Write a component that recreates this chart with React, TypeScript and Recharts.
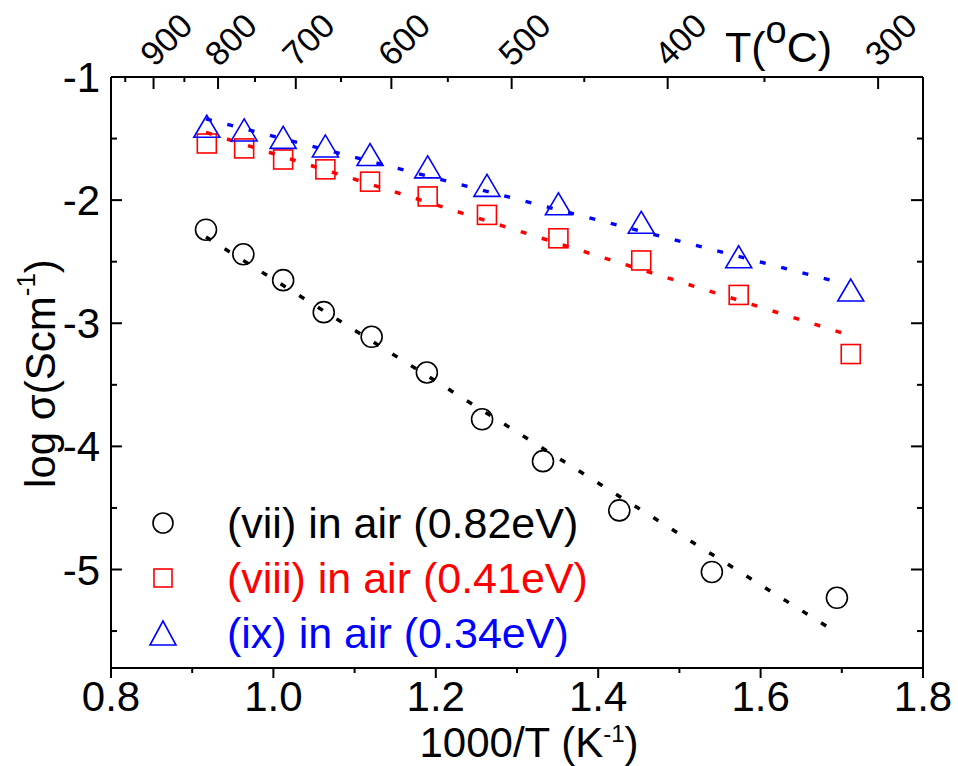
import React from 'react';
import { ComposedChart, Scatter, Line, XAxis, YAxis, Legend } from 'recharts';

const FONT = '"Liberation Sans", Arial, Helvetica, sans-serif';

// 1000/T values and log(sigma)
const xVii = [0.917, 0.963, 1.012, 1.062, 1.121, 1.189, 1.257, 1.332, 1.426, 1.540, 1.694];
const yVii = [-2.24, -2.44, -2.65, -2.91, -3.11, -3.40, -3.78, -4.12, -4.52, -5.02, -5.23];

const xViiiIx = [0.918, 0.964, 1.012, 1.064, 1.119, 1.190, 1.263, 1.351, 1.453, 1.573, 1.711];
const yViii = [-1.54, -1.58, -1.67, -1.75, -1.85, -1.97, -2.12, -2.31, -2.49, -2.77, -3.25];
const yIx = [-1.40, -1.43, -1.49, -1.56, -1.63, -1.73, -1.88, -2.03, -2.18, -2.46, -2.73];

// end points of the dotted Arrhenius fits
const fitXVii = [0.917, 1.681];
const fitYVii = [-2.30, -5.46];
const fitXViii = [0.917, 1.706];
const fitYViii = [-1.45, -3.09];
const fitXIx = [0.917, 1.704];
const fitYIx = [-1.34, -2.68];

const legendLabels = ['(vii) in air (0.82eV)', '(viii) in air (0.41eV)', '(ix) in air (0.34eV)'];
const seriesColors = ['#000000', '#ff0000', '#0000ff'];

const xTicks = [0.8, 0.9, 1.0, 1.1, 1.2, 1.3, 1.4, 1.5, 1.6, 1.7, 1.8];
const yTicks = [-1, -1.5, -2, -2.5, -3, -3.5, -4, -4.5, -5, -5.5];
const tempTicksC = [950, 900, 850, 800, 750, 700, 650, 600, 550, 500, 450, 400, 350, 300];

const toPoints = (xs: number[], ys: number[]) => xs.map((x, i) => ({ x, y: ys[i] }));

const dataVii = toPoints(xVii, yVii);
const dataViii = toPoints(xViiiIx, yViii);
const dataIx = toPoints(xViiiIx, yIx);
const lineVii = toPoints(fitXVii, fitYVii);
const lineViii = toPoints(fitXViii, fitYViii);
const lineIx = toPoints(fitXIx, fitYIx);
const topTicks = tempTicksC.map((t) => 1000 / (t + 273.15));

const GAP = 10;

function BottomTick({ x, y, payload }: any) {
  const v = payload.value;
  const major = Math.abs(v * 5 - Math.round(v * 5)) < 1e-6;
  const axisY = y - GAP;
  return (
    <g>
      <line x1={x} x2={x} y1={axisY} y2={axisY + (major ? 10 : 5)} stroke="#000" strokeWidth={2} />
      {major && (
        <text x={x} y={axisY + 43} textAnchor="middle" fontSize={42} fontFamily={FONT} fill="#000">
          {v.toFixed(1)}
        </text>
      )}
    </g>
  );
}

function LeftTick({ x, y, payload }: any) {
  const v = payload.value;
  const major = Number.isInteger(v);
  const axisX = x + GAP;
  return (
    <g>
      <line x1={axisX} x2={axisX + (major ? 11 : 6)} y1={y} y2={y} stroke="#000" strokeWidth={2} />
      {major && (
        <text x={axisX - 11} y={y + 15} textAnchor="end" fontSize={42} fontFamily={FONT} fill="#000">
          {String(v)}
        </text>
      )}
    </g>
  );
}

function RightTick({ x, y, payload }: any) {
  const major = Number.isInteger(payload.value);
  const axisX = x - GAP;
  return <line x1={axisX} x2={axisX - (major ? 12 : 6)} y1={y} y2={y} stroke="#000" strokeWidth={2} />;
}

function TopTick({ x, y, payload }: any) {
  const t = Math.round(1000 / payload.value - 273.15);
  const major = t % 100 === 0;
  const axisY = y + GAP;
  const lx = x + 1;
  const ly = axisY - 9;
  return (
    <g>
      <line x1={x} x2={x} y1={axisY} y2={axisY + (major ? 12 : 5)} stroke="#000" strokeWidth={2} />
      {major && (
        <text
          x={lx}
          y={ly}
          transform={`rotate(-45 ${lx} ${ly})`}
          textAnchor="start"
          fontSize={34}
          fontFamily={FONT}
          fill="#000"
        >
          {t}
        </text>
      )}
    </g>
  );
}

const CircleMark = ({ cx, cy }: any) => (
  <circle cx={cx} cy={cy} r={10.5} fill="none" stroke="#000" strokeWidth={1.6} />
);
const SquareMark = ({ cx, cy }: any) => (
  <rect x={cx - 9.5} y={cy - 9.5} width={19} height={19} fill="none" stroke="#ff0000" strokeWidth={1.6} />
);
const TriangleMark = ({ cx, cy }: any) => (
  <polygon
    points={`${cx},${cy - 11} ${cx - 13},${cy + 11} ${cx + 13},${cy + 11}`}
    fill="none"
    stroke="#0000ff"
    strokeWidth={1.6}
  />
);

const yTitle = (props: any) => {
  const vb = props.viewBox;
  const cx = vb.x + 44;
  const cy = vb.y + vb.height / 2 + 1;
  return (
    <text x={cx} y={cy} transform={`rotate(-90 ${cx} ${cy})`} textAnchor="middle" fontSize={42} fontFamily={FONT} fill="#000">
      log σ(Scm
      <tspan dy={-20} fontSize={26}>-1</tspan>
      <tspan dy={20}>)</tspan>
    </text>
  );
};

const xTitle = (props: any) => {
  const vb = props.viewBox;
  return (
    <text x={vb.x + vb.width / 2 + 12} y={vb.y + 89} textAnchor="middle" fontSize={42} fontFamily={FONT} fill="#000">
      1000/T (K
      <tspan dy={-15} fontSize={24}>-1</tspan>
      <tspan dy={15}>)</tspan>
    </text>
  );
};

const topTitle = () => (
  <text x={725} y={62} textAnchor="start" fontSize={43} fontFamily={FONT} fill="#000">
    T(
    <tspan dy={-19} fontSize={38}>o</tspan>
    <tspan dy={19}>C)</tspan>
  </text>
);

const LegendBox = () => (
  <svg width={470} height={170} style={{ display: 'block', overflow: 'visible' }}>
    {legendLabels.map((label, i) => {
      const cy = 33 + 55 * i;
      const color = seriesColors[i];
      let mark;
      if (i === 0) mark = <circle cx={33} cy={cy} r={10} fill="none" stroke={color} strokeWidth={1.6} />;
      else if (i === 1)
        mark = <rect x={24} y={cy - 9} width={18} height={18} fill="none" stroke={color} strokeWidth={1.6} />;
      else
        mark = (
          <polygon
            points={`33,${cy - 12} 20,${cy + 12} 46,${cy + 12}`}
            fill="none"
            stroke={color}
            strokeWidth={1.6}
          />
        );
      return (
        <g key={label}>
          {mark}
          <text x={97} y={cy + 15} fontSize={43} fontFamily={FONT} fill={color}>
            {label}
          </text>
        </g>
      );
    })}
  </svg>
);

export default function App() {
  return (
    <div style={{ position: 'absolute', left: 0, top: 0, width: 958, height: 766, background: '#fff' }}>
      <ComposedChart width={958} height={766} margin={{ top: 27, right: 25, bottom: 38, left: 11 }}>
        <XAxis
          dataKey="x"
          type="number"
          domain={[0.8, 1.8]}
          ticks={xTicks}
          interval={0}
          height={60}
          tickSize={0}
          tickMargin={GAP}
          tickLine={false}
          axisLine={{ stroke: '#000', strokeWidth: 2 }}
          tick={(p: any) => <BottomTick {...p} />}
          label={xTitle}
          allowDataOverflow
        />
        <XAxis
          xAxisId="top"
          dataKey="x"
          orientation="top"
          type="number"
          domain={[0.8, 1.8]}
          ticks={topTicks}
          interval={0}
          height={50}
          tickSize={0}
          tickMargin={GAP}
          tickLine={false}
          axisLine={{ stroke: '#000', strokeWidth: 2 }}
          tick={(p: any) => <TopTick {...p} />}
          label={topTitle}
          allowDataOverflow
        />
        <YAxis
          dataKey="y"
          type="number"
          domain={[-5.8, -1]}
          ticks={yTicks}
          interval={0}
          width={100}
          tickSize={0}
          tickMargin={GAP}
          tickLine={false}
          axisLine={{ stroke: '#000', strokeWidth: 2 }}
          tick={(p: any) => <LeftTick {...p} />}
          label={yTitle}
          allowDataOverflow
        />
        <YAxis
          yAxisId="right"
          dataKey="y"
          orientation="right"
          type="number"
          domain={[-5.8, -1]}
          ticks={yTicks}
          interval={0}
          width={10}
          tickSize={0}
          tickMargin={GAP}
          tickLine={false}
          axisLine={{ stroke: '#000', strokeWidth: 2 }}
          tick={(p: any) => <RightTick {...p} />}
          allowDataOverflow
        />
        {/* invisible series so the top / right frame axes get registered */}
        <Line xAxisId="top" yAxisId="right" data={lineIx} dataKey="y" stroke="none" dot={false} isAnimationActive={false} legendType="none" />
        <Line data={lineVii} dataKey="y" stroke="#000" strokeWidth={3.5} strokeDasharray="6 16" dot={false} isAnimationActive={false} legendType="none" />
        <Line data={lineViii} dataKey="y" stroke="#ff0000" strokeWidth={3.5} strokeDasharray="6 16" dot={false} isAnimationActive={false} legendType="none" />
        <Line data={lineIx} dataKey="y" stroke="#0000ff" strokeWidth={3.5} strokeDasharray="6 16" dot={false} isAnimationActive={false} legendType="none" />
        <Scatter name={legendLabels[0]} data={dataVii} shape={(p: any) => <CircleMark {...p} />} isAnimationActive={false} />
        <Scatter name={legendLabels[1]} data={dataViii} shape={(p: any) => <SquareMark {...p} />} isAnimationActive={false} />
        <Scatter name={legendLabels[2]} data={dataIx} shape={(p: any) => <TriangleMark {...p} />} isAnimationActive={false} />
        <Legend
          layout="horizontal"
          align="center"
          verticalAlign="middle"
          content={() => <LegendBox />}
          wrapperStyle={{ position: 'absolute', left: 130, top: 490, width: 470, height: 170 }}
        />
      </ComposedChart>
    </div>
  );
}
